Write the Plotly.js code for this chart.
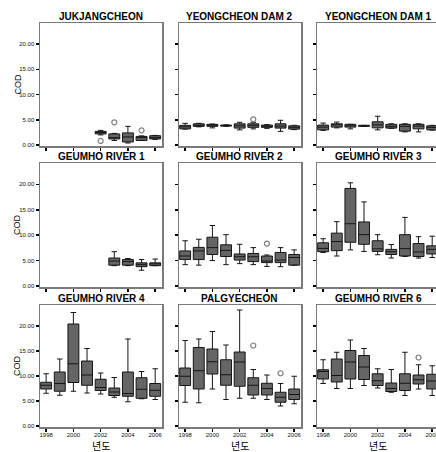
<!DOCTYPE html>
<html>
<head>
<meta charset="utf-8">
<script src="https://cdn.plot.ly/plotly-3.0.1.min.js"></script>
<style>
html,body{margin:0;padding:0;overflow:hidden;background:#fff;}
#chart{width:440px;height:452px;}
</style>
</head>
<body>
<div id="chart"></div>
<script>
// ---- data (COD, mg/L) ----
const YEARS = [1998,1999,2000,2001,2002,2003,2004,2005,2006];
const YEARS_JUK = [2002,2003,2004,2005,2006];
const YEARS_GR1 = [2003,2004,2005,2006];

const TITLES = ["JUKJANGCHEON","YEONGCHEON DAM 2","YEONGCHEON DAM 1",
                "GEUMHO RIVER 1","GEUMHO RIVER 2","GEUMHO RIVER 3",
                "GEUMHO RIVER 4","PALGYECHEON","GEUMHO RIVER 6"];
const TICK_YEARS = [1998,2000,2002,2004,2006];
const TICK_VALUES = [0,5,10,15,20];

const JUK_LO  = [2.0,0.9,0.4,0.9,1.1];
const JUK_Q1  = [2.2,1.2,0.6,0.9,1.2];
const JUK_MED = [2.5,1.45,1.6,1.45,1.5];
const JUK_Q3  = [2.7,2.2,2.4,1.7,1.85];
const JUK_HI  = [2.9,2.3,3.7,1.8,1.9];
const JUK_OUT_X = [2002,2003,2005];
const JUK_OUT_Y = [0.8,4.5,2.9];

const YD2_LO  = [3.15,3.6,3.4,3.7,3.0,3.2,3.3,2.7,3.05];
const YD2_Q1  = [3.2,3.7,3.7,3.75,3.35,3.5,3.5,3.35,3.15];
const YD2_MED = [3.6,3.9,3.85,3.85,3.8,3.9,3.7,3.75,3.5];
const YD2_Q3  = [3.9,4.2,4.1,3.95,4.2,4.2,3.95,4.2,3.8];
const YD2_HI  = [4.3,4.3,4.15,4.0,4.5,4.5,4.05,4.9,3.9];
const YD2_OUT_X = [2003];
const YD2_OUT_Y = [5.1];

const YD1_LO  = [2.9,3.4,3.2,3.7,3.0,3.3,2.6,2.6,2.95];
const YD1_Q1  = [3.0,3.55,3.55,3.7,3.4,3.35,2.75,3.2,3.0];
const YD1_MED = [3.55,4.0,3.8,3.8,4.0,3.7,3.7,3.75,3.5];
const YD1_Q3  = [3.95,4.2,4.1,3.9,4.6,4.1,4.1,4.1,3.8];
const YD1_HI  = [4.35,4.55,4.1,3.9,5.7,4.2,4.2,4.2,3.9];

const GR1_LO  = [4.0,4.0,3.1,4.0];
const GR1_Q1  = [4.1,4.1,3.8,4.0];
const GR1_MED = [4.9,4.8,4.2,4.35];
const GR1_Q3  = [5.5,5.2,4.55,4.55];
const GR1_HI  = [6.75,5.4,5.2,5.3];

const GR2_LO  = [4.2,4.1,5.0,4.2,4.4,4.2,3.85,3.8,4.1];
const GR2_Q1  = [5.2,5.2,6.2,5.8,5.1,4.8,4.6,4.6,4.1];
const GR2_MED = [5.9,6.9,7.55,7.0,5.75,5.75,4.9,5.1,5.6];
const GR2_Q3  = [6.9,7.6,9.6,8.1,6.3,6.4,5.9,6.6,6.2];
const GR2_HI  = [8.9,9.2,11.9,10.1,8.2,7.55,6.1,7.55,7.1];
const GR2_OUT_X = [2004];
const GR2_OUT_Y = [8.35];

const GR3_LO  = [6.6,5.9,7.1,6.8,6.15,5.5,5.8,5.5,5.6];
const GR3_Q1  = [6.75,6.95,8.6,8.2,6.8,6.2,5.9,5.8,6.3];
const GR3_MED = [7.4,8.75,12.25,10.1,7.3,6.75,7.35,6.7,7.2];
const GR3_Q3  = [8.5,10.4,19.2,12.6,8.9,7.2,10.1,8.35,7.9];
const GR3_HI  = [9.3,12.65,20.3,16.55,10.1,8.15,13.5,9.7,9.8];

const GR4_LO  = [6.55,6.15,6.95,6.6,6.4,5.75,4.85,5.45,5.3];
const GR4_Q1  = [7.4,6.95,8.7,8.15,7.1,6.1,5.95,5.55,5.95];
const GR4_MED = [8.15,8.5,12.45,10.2,7.7,6.8,6.5,7.35,7.15];
const GR4_Q3  = [8.75,10.8,20.4,13.0,9.35,7.6,10.8,9.65,8.5];
const GR4_HI  = [10.45,13.4,22.7,15.5,10.6,9.7,17.4,10.9,11.45];

const PAL_LO  = [4.75,4.65,7.4,5.3,5.55,5.55,5.3,4.0,4.45];
const PAL_Q1  = [8.1,7.4,10.4,8.15,7.95,6.2,6.2,4.75,5.3];
const PAL_MED = [9.95,11.05,12.85,10.25,12.8,8.15,7.5,5.75,6.3];
const PAL_Q3  = [11.6,15.7,15.4,13.25,14.8,9.65,8.55,6.75,7.4];
const PAL_HI  = [17.1,17.4,18.9,16.2,23.2,11.3,10.2,8.5,9.95];
const PAL_OUT_X = [2003,2005];
const PAL_OUT_Y = [16.1,10.55];

const GR6_LO  = [8.5,7.5,7.5,8.1,7.6,6.75,6.1,7.4,6.1];
const GR6_Q1  = [9.4,8.8,9.4,9.3,8.1,6.9,7.1,8.4,7.4];
const GR6_MED = [10.9,10.1,12.8,11.8,9.05,7.5,8.55,9.25,9.0];
const GR6_Q3  = [11.25,13.4,15.1,14.1,10.45,8.6,10.45,10.2,10.35];
const GR6_HI  = [13.25,14.75,17.2,15.5,11.45,11.3,14.75,12.25,12.05];
const GR6_OUT_X = [2005];
const GR6_OUT_Y = [13.7];

// ---- build ----
const panels = [
  [YEARS_JUK, JUK_LO, JUK_Q1, JUK_MED, JUK_Q3, JUK_HI, JUK_OUT_X, JUK_OUT_Y],
  [YEARS, YD2_LO, YD2_Q1, YD2_MED, YD2_Q3, YD2_HI, YD2_OUT_X, YD2_OUT_Y],
  [YEARS, YD1_LO, YD1_Q1, YD1_MED, YD1_Q3, YD1_HI, [], []],
  [YEARS_GR1, GR1_LO, GR1_Q1, GR1_MED, GR1_Q3, GR1_HI, [], []],
  [YEARS, GR2_LO, GR2_Q1, GR2_MED, GR2_Q3, GR2_HI, GR2_OUT_X, GR2_OUT_Y],
  [YEARS, GR3_LO, GR3_Q1, GR3_MED, GR3_Q3, GR3_HI, [], []],
  [YEARS, GR4_LO, GR4_Q1, GR4_MED, GR4_Q3, GR4_HI, [], []],
  [YEARS, PAL_LO, PAL_Q1, PAL_MED, PAL_Q3, PAL_HI, PAL_OUT_X, PAL_OUT_Y],
  [YEARS, GR6_LO, GR6_Q1, GR6_MED, GR6_Q3, GR6_HI, GR6_OUT_X, GR6_OUT_Y]
];

const W = 440, H = 452;
const colPx = [[40,162],[179,301],[317,439]];
const rowPx = [[23,146],[163,287],[305,427]];

const data = [];
const layout = {
  width: W, height: H,
  margin: {l:0,r:0,t:0,b:0},
  paper_bgcolor:'#fff', plot_bgcolor:'#fff',
  showlegend:false,
  font:{family:'"Liberation Sans", Arial, sans-serif', color:'#000'},
  annotations: []
};

panels.forEach((p, i) => {
  const n = i + 1;
  const r = Math.floor(i / 3), c = i % 3;
  const xa = 'x' + (n === 1 ? '' : n), ya = 'y' + (n === 1 ? '' : n);
  data.push({
    type:'box', xaxis:xa, yaxis:ya,
    x:p[0], lowerfence:p[1], q1:p[2], median:p[3], q3:p[4], upperfence:p[5],
    width:0.8, whiskerwidth:0.5,
    fillcolor:'#656565',
    line:{color:'#151515', width:1},
    boxpoints:false, hoverinfo:'skip'
  });
  if (p[6].length) {
    data.push({
      type:'scatter', mode:'markers', xaxis:xa, yaxis:ya,
      x:p[6], y:p[7],
      marker:{symbol:'circle-open', size:5, color:'#808080', line:{width:1.2, color:'#808080'}},
      hoverinfo:'skip'
    });
  }
  const xd = [colPx[c][0]/W, colPx[c][1]/W];
  const yd = [1 - rowPx[r][1]/H, 1 - rowPx[r][0]/H];
  const axCommon = {
    showline:true, mirror:true, linecolor:'#7a7a7a', linewidth:1.5,
    showgrid:false, zeroline:false,
    ticks:'outside', ticklen:3, tickwidth:1.5, tickcolor:'#000',
    tickfont:{size:6, color:'#111'}
  };
  layout['xaxis' + (n === 1 ? '' : n)] = Object.assign({}, axCommon, {
    domain:xd, anchor:ya, range:[1997.55, 2006.5],
    tickvals:TICK_YEARS, ticktext:TICK_YEARS.map(String),
    showticklabels: r === 2, ticklabelstandoff:-2
  });
  layout['yaxis' + (n === 1 ? '' : n)] = Object.assign({}, axCommon, {
    domain:yd, anchor:xa, range:[-0.2, 24.2],
    tickvals:TICK_VALUES, ticktext:TICK_VALUES.map(v => v.toFixed(2)),
    showticklabels: c === 0
  });
  layout.annotations.push({
    xref:'paper', yref:'paper', x:(xd[0]+xd[1])/2, y:yd[1],
    xanchor:'center', yanchor:'bottom', yshift:-1, showarrow:false,
    text:'<b>' + TITLES[i] + '</b>',
    font:{size:10, color:'#000', family:'"Liberation Sans", Arial, sans-serif'}
  });
  if (c === 0) {
    layout.annotations.push({
      xref:'paper', yref:'paper', x:17/W, y:(yd[0]+yd[1])/2,
      xanchor:'center', yanchor:'middle', showarrow:false, textangle:-90,
      text:'COD', font:{size:9, color:'#000'}
    });
  }
  if (r === 2) {
    layout.annotations.push({
      xref:'paper', yref:'paper', x:(xd[0]+xd[1])/2, y:1 - 445/H,
      xanchor:'center', yanchor:'middle', showarrow:false,
      text:'년도', font:{size:10, color:'#000', family:'"Noto Sans CJK KR", sans-serif'}
    });
  }
});

Plotly.newPlot('chart', data, layout, {staticPlot:true, displayModeBar:false});
</script>
</body>
</html>
